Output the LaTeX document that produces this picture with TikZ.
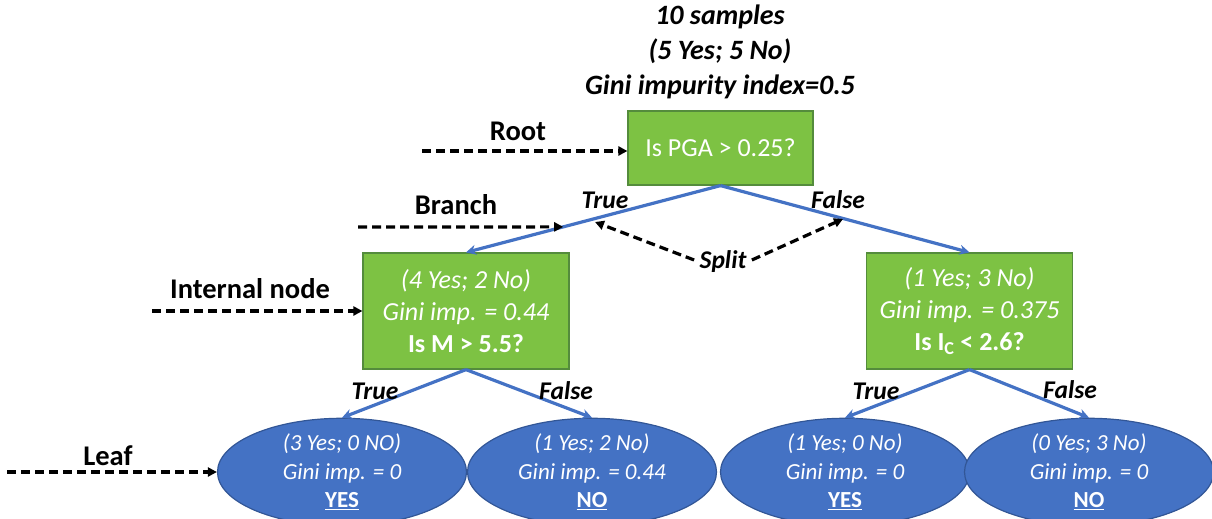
\documentclass[tikz,border=0pt]{standalone}
\usepackage{fontspec}
\setmainfont{Carlito}
\usetikzlibrary{arrows.meta,shapes.geometric,calc}
\definecolor{gfill}{RGB}{125,194,67}
\definecolor{gline}{RGB}{84,140,60}
\definecolor{bfill}{RGB}{68,114,196}
\definecolor{bline}{RGB}{50,86,150}
\definecolor{conn}{RGB}{68,114,196}
\begin{document}
\begin{tikzpicture}[x=1pt,y=-1pt,
  gbox/.style={draw=gline, line width=1.2pt, fill=gfill, text=white, align=center,
    inner sep=0pt, minimum width=206pt, minimum height=116pt,
    font=\fontsize{26}{32}\selectfont},
  rootbox/.style={gbox, minimum width=185pt, minimum height=74pt},
  leafnode/.style={ellipse, draw=bline, line width=1.2pt, fill=bfill, text=white,
    align=center, inner sep=0pt, minimum width=249pt, minimum height=98pt,
    font=\fontsize{23}{28.5}\selectfont},
  branchline/.style={draw=conn, line width=3.2pt, -{Stealth[length=10pt,width=10pt]}},
  annot/.style={draw=black, line width=3.2pt, dash pattern=on 9pt off 5pt,
    -{Triangle[length=9pt,width=9pt]}},
  tflabel/.style={font=\fontsize{25.5}{28}\selectfont\bfseries\itshape},
  annlabel/.style={font=\fontsize{28.5}{32}\selectfont\bfseries},
]
\useasboundingbox (0,0) rectangle (1212,519);

% title
\node[align=center, font=\fontsize{28}{35}\selectfont\bfseries\itshape] (title) at (720,52)
  {10 samples\\(5 Yes; 5 No)\\Gini impurity index=0.5};

% nodes
\node[rootbox] (root) at (720.5,148) {Is PGA > 0.25?};
\node[gbox] (inl) at (466,311) {\itshape (4 Yes; 2 No)\\\itshape Gini imp. = 0.44\\\bfseries Is M > 5.5?};
\node[gbox] (inr) at (969.5,311) {\itshape (1 Yes; 3 No)\\\itshape Gini imp. = 0.375\\\bfseries Is I\textsubscript{C} < 2.6?};

\node[leafnode] (l1) at (342,472) {\itshape (3 Yes; 0 NO)\\\itshape Gini imp. = 0\\\bfseries\underline{YES}};
\node[leafnode] (l2) at (592,472) {\itshape (1 Yes; 2 No)\\\itshape Gini imp. = 0.44\\\bfseries\underline{NO}};
\node[leafnode] (l3) at (845,472) {\itshape (1 Yes; 0 No)\\\itshape Gini imp. = 0\\\bfseries\underline{YES}};
\node[leafnode] (l4) at (1089,472) {\itshape (0 Yes; 3 No)\\\itshape Gini imp. = 0\\\bfseries\underline{NO}};

% branches
\draw[branchline] (root.south) -- (inl.north);
\draw[branchline] (root.south) -- (inr.north);
\draw[branchline] (inl.south) -- (l1.north);
\draw[branchline] (inl.south) -- (l2.north);
\draw[branchline] (inr.south) -- (l3.north);
\draw[branchline] (inr.south) -- (l4.north);

% branch labels
\node[tflabel] (t1) at (605,200) {True};
\node[tflabel] (f1) at (838,200) {False};
\node[tflabel] (t2) at (375,391) {True};
\node[tflabel] (f2) at (566,391) {False};
\node[tflabel] (t3) at (876,391) {True};
\node[tflabel] (f3) at (1070,390) {False};

% annotations
\node[annlabel] (lroot) at (518,131) {Root};
\node[annlabel] (lbranch) at (456,205) {Branch};
\node[annlabel] (linternal) at (250,289) {Internal node};
\node[annlabel] (lleaf) at (108,456) {Leaf};
\node[tflabel] (split) at (723,262) {Split};

\coordinate (aroot) at (422,151);
\coordinate (abranch) at (358,227);
\coordinate (bp) at ($(root.south)!0.618!(inl.north)$);
\coordinate (ainternal) at (152,311);
\coordinate (aleaf) at (7,472);
\coordinate (sl) at (595,222);
\coordinate (sr) at (843,219);
\coordinate (sw) at ($(split.west)+(-2,-2)$);
\coordinate (se) at ($(split.east)+(2,-2)$);

\draw[annot] (aroot) -- (root.west |- aroot);
\draw[annot] (abranch) -- (bp);
\draw[annot] (ainternal) -- (inl.west);
\draw[annot] (aleaf) -- (l1.west);
\draw[annot] (sw) -- (sl);
\draw[annot] (se) -- (sr);
\end{tikzpicture}
\end{document}
